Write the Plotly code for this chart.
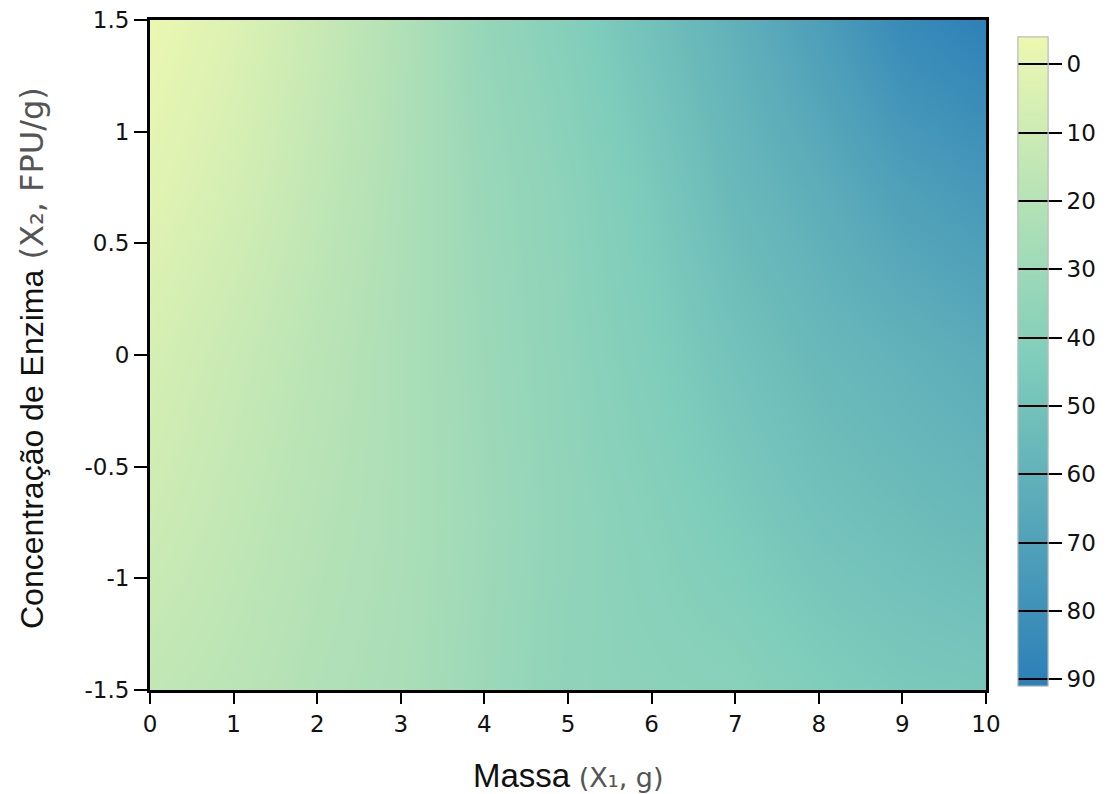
import plotly.graph_objects as go

# Grid
massa = [0, 1, 2, 3, 4, 5, 6, 7, 8, 9, 10]
enzima = [-1.5, -0.75, 0, 0.75, 1.5]
resp_y_m150 = [15, 18, 22, 25, 31, 37, 38, 39, 43, 46, 47]
resp_y_m075 = [10, 15, 20, 24, 30, 36, 40, 45, 50, 53, 56]
resp_y_000 = [6, 12, 18, 24, 31, 37, 43, 50, 56, 60, 64]
resp_y_p075 = [1, 7, 15, 23, 32, 38, 46, 56, 63, 71, 76]
resp_y_p150 = [-3, 3, 12, 22, 34, 41, 51, 61, 72, 84, 90]
cbar_ticks = [0, 10, 20, 30, 40, 50, 60, 70, 80, 90]
x_ticks = [0, 1, 2, 3, 4, 5, 6, 7, 8, 9, 10]
y_ticks = [-1.5, -1, -0.5, 0, 0.5, 1, 1.5]
y_ticklabels = ["-1.5", "-1", "-0.5", "0", "0.5", "1", "1.5"]
zmin_val, zmax_val = -4, 91

rows = [resp_y_m150, resp_y_m075, resp_y_000, resp_y_p075, resp_y_p150]
# colorbar is drawn with 0 at the top, so values are negated for plotting
z_neg = [[-v for v in r] for r in rows]

cscale = [[0, "#2c7fb8"], [0.5, "#7fcdbb"], [1, "#edf8b1"]]
FONT = "Liberation Sans, Arial, sans-serif"
WIDE = "DejaVu Sans, sans-serif"

# page body has an 8px margin, so the figure is slightly smaller
OFF = 8
W, H = 1119 - OFF, 794 - OFF
L, R, T, B = 150 - OFF, 133, 20 - OFF, 104
plot_h = H - T - B
plot_w = W - L - R

cb_common = dict(
    thicknessmode="pixels", thickness=30,
    lenmode="pixels", len=649,
    x=(1018 - OFF - L) / plot_w, xanchor="left",
    y=(H - B - (361.5 - OFF)) / plot_h, yanchor="middle",
    tickvals=[-t for t in cbar_ticks],
    ticktext=[str(t) for t in cbar_ticks],
    outlinecolor="#bbbbbb", outlinewidth=1,
    tickcolor="black", tickwidth=2,
    tickfont=dict(family=WIDE, size=23, color="#111111"),
    xpad=0, ypad=0,
)

fig = go.Figure()
fig.add_trace(go.Heatmap(
    x=massa, y=enzima, z=z_neg, zmin=-zmax_val, zmax=-zmin_val,
    colorscale=cscale, zsmooth="best",
    colorbar=dict(**cb_common, ticks="outside", ticklen=14),
    hoverinfo="skip",
))
fig.add_trace(go.Heatmap(
    x=massa, y=enzima, z=z_neg, zmin=-zmax_val, zmax=-zmin_val,
    colorscale=cscale, zsmooth="best",
    colorbar=dict(**cb_common, ticks="inside", ticklen=30, showticklabels=False),
    hoverinfo="skip",
))

axis_common = dict(
    showline=True, linecolor="black", linewidth=3, mirror=True,
    ticks="outside", tickcolor="black", tickwidth=2,
    showgrid=False, zeroline=False,
    tickfont=dict(family=WIDE, size=23, color="#111111"),
    ticklabeloverflow="allow",
)
fig.update_xaxes(range=[0, 10], tickvals=x_ticks, ticklen=11, **axis_common)
fig.update_yaxes(range=[-1.5, 1.5], tickvals=y_ticks, ticktext=y_ticklabels,
                 ticklen=13, **axis_common)

fig.add_annotation(
    xref="paper", yref="paper", x=0.5, y=-(775 - 690) / plot_h,
    xanchor="center", yanchor="middle", showarrow=False,
    text="<span style='font-size:33px;color:#111111'>Massa</span>"
         "<span style='font-family:DejaVu Sans;font-size:27px;color:#555555'> (X₁, g)</span>",
    font=dict(family=FONT),
)
fig.add_annotation(
    xref="paper", yref="paper", x=-(150 - 32) / plot_w, y=(690 - 358) / plot_h,
    xanchor="center", yanchor="middle", showarrow=False, textangle=-90,
    text="<span style='font-size:32px;color:#111111'>Concentração de Enzima</span>"
         "<span style='font-family:DejaVu Sans;font-size:32px;color:#555555'> (X₂, FPU/g)</span>",
    font=dict(family=FONT),
)

fig.update_layout(
    width=W, height=H,
    margin=dict(l=L, r=R, t=T, b=B, autoexpand=False),
    paper_bgcolor="white", plot_bgcolor="white",
    font=dict(family=FONT),
)
fig.write_html("out.html")
